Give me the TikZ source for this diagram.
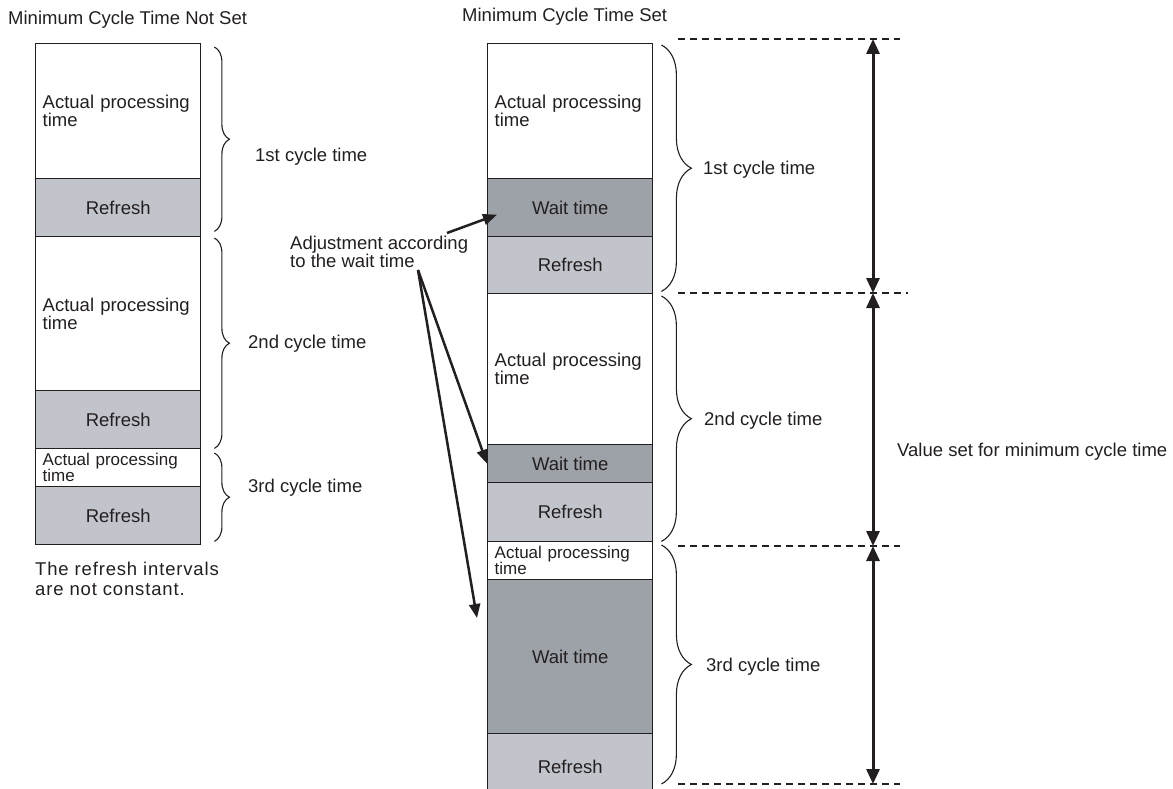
\documentclass[tikz,border=0pt]{standalone}
\usepackage{fontspec}
\setmainfont{Liberation Sans}
\usetikzlibrary{arrows.meta,decorations.pathreplacing}
\definecolor{ink}{HTML}{231F20}
\definecolor{waitg}{HTML}{9CA2A7}
\definecolor{refg}{HTML}{C1C4CB}
\begin{document}
\begin{tikzpicture}[x=1pt, y=-1pt,
        every node/.style={text=ink, inner sep=0pt, font=\fontsize{18.5}{18}\selectfont},
        seg/.style={draw=ink, line width=1.4pt, minimum width=165pt, anchor=north west},
        apt/.style={seg, text width=151pt, inner xsep=7pt, align=left},
        aptsmall/.style={apt, font=\fontsize{17}{16}\selectfont},
        waitbox/.style={seg, fill=waitg, align=center},
        refbox/.style={seg, fill=refg, align=center},
        cyc/.style={anchor=west},
        bracel/.style={draw=ink, line width=1.1pt, decorate, decoration={brace, amplitude=15pt}},
        bracer/.style={draw=ink, line width=1.1pt, decorate, decoration={brace, amplitude=30pt}},
        limline/.style={draw=ink, line width=1.8pt, dash pattern=on 7pt off 5pt},
        dimarrow/.style={draw=ink, line width=3pt, arrows={Triangle[length=15pt,width=13pt]-Triangle[length=15pt,width=13pt]}},
        pointer/.style={draw=ink, line width=2.5pt, -{Triangle[length=14pt,width=11pt]}},
      ]
      \useasboundingbox (0,0) rectangle (1173,789);
      \clip (0,0) rectangle (1173,789);
      % titles
      \node[anchor=west] (ttlnot) at (8,20) {Minimum Cycle Time Not Set};
      \node[anchor=west] (ttlset) at (462,17) {Minimum Cycle Time Set};
      % left column
      \node[apt, minimum height=135pt] (la1) at (35,43) {Actual processing\\time};
      \node[refbox, minimum height=58pt] (lr1) at (35,178) {Refresh};
      \node[apt, minimum height=154pt] (la2) at (35,236) {Actual processing\\time};
      \node[refbox, minimum height=58pt] (lr2) at (35,390) {Refresh};
      \node[aptsmall, minimum height=38pt] (la3) at (35,448) {Actual processing\\time};
      \node[refbox, minimum height=58pt] (lr3) at (35,486) {Refresh};
      \draw[bracel] ([shift={(13,4)}]la1.north east) -- ([shift={(13,-6)}]lr1.south east);
      \draw[bracel] ([shift={(13,2)}]la2.north east) -- ([shift={(13,-1)}]lr2.south east);
      \draw[bracel] ([shift={(13,5)}]la3.north east) -- ([shift={(13,-4)}]lr3.south east);
      \node[cyc] (lc1) at (255,157) {1st cycle time};
      \node[cyc] (lc2) at (248,344) {2nd cycle time};
      \node[cyc] (lc3) at (248,488) {3rd cycle time};
      \node[anchor=north west, align=left, font=\fontsize{18.5}{20}\selectfont\addfontfeature{LetterSpace=4.5}] (note) at (35,562)
        {The refresh intervals\\are not constant.};
      % right column
      \node[apt, minimum height=135pt] (ra1) at (487,43) {Actual processing\\time};
      \node[waitbox, minimum height=58pt] (rw1) at (487,178) {Wait time};
      \node[refbox, minimum height=57pt] (rr1) at (487,236) {Refresh};
      \node[apt, minimum height=151pt] (ra2) at (487,293) {Actual processing\\time};
      \node[waitbox, minimum height=38pt] (rw2) at (487,444) {Wait time};
      \node[refbox, minimum height=59pt] (rr2) at (487,482) {Refresh};
      \node[aptsmall, minimum height=38pt] (ra3) at (487,541) {Actual processing\\time};
      \node[waitbox, minimum height=154pt] (rw3) at (487,579) {Wait time};
      \node[refbox, minimum height=67pt] (rr3) at (487,733) {Refresh};
      \draw[bracer] ([shift={(8,2)}]ra1.north east) -- ([shift={(8,-3)}]rr1.south east);
      \draw[bracer] ([shift={(8,3)}]ra2.north east) -- ([shift={(8,-1)}]rr2.south east);
      \draw[bracer] ([shift={(8,4)}]ra3.north east) -- ([shift={(8,51)}]rr3.north east);
      \node[cyc] (rc1) at (703,170) {1st cycle time};
      \node[cyc] (rc2) at (704,421) {2nd cycle time};
      \node[cyc] (rc3) at (706,667) {3rd cycle time};
      % minimum cycle time marks
      \draw[limline] (678,39) -- (900,39);
      \draw[limline] (678,293) -- (908,293);
      \draw[limline] (678,546) -- (900,546);
      \draw[limline] (678,784) -- (900,784);
      \coordinate (m0) at (873,39);
      \coordinate (m1) at (873,293);
      \coordinate (m2) at (873,546);
      \coordinate (m3) at (873,784);
      \draw[dimarrow] (m0) -- (m1);
      \draw[dimarrow] (m1) -- (m2);
      \draw[dimarrow] (m2) -- (m3);
      \node[anchor=west] (minval) at (897,452) {Value set for minimum cycle time};
      % adjustment pointers
      \node[anchor=west, align=left] (adj) at (290,252) {Adjustment according\\to the wait time};
      \coordinate (adjtop) at (447,233);
      \coordinate (adjend) at (418,270);
      \draw[pointer] (adjtop) -- ([shift={(10,7)}]rw1.west);
      \draw[pointer] (adjend) -- (rw2.west);
      \draw[pointer] (adjend) -- ([shift={(-10,39)}]rw3.north west);
    \end{tikzpicture}
\end{document}
